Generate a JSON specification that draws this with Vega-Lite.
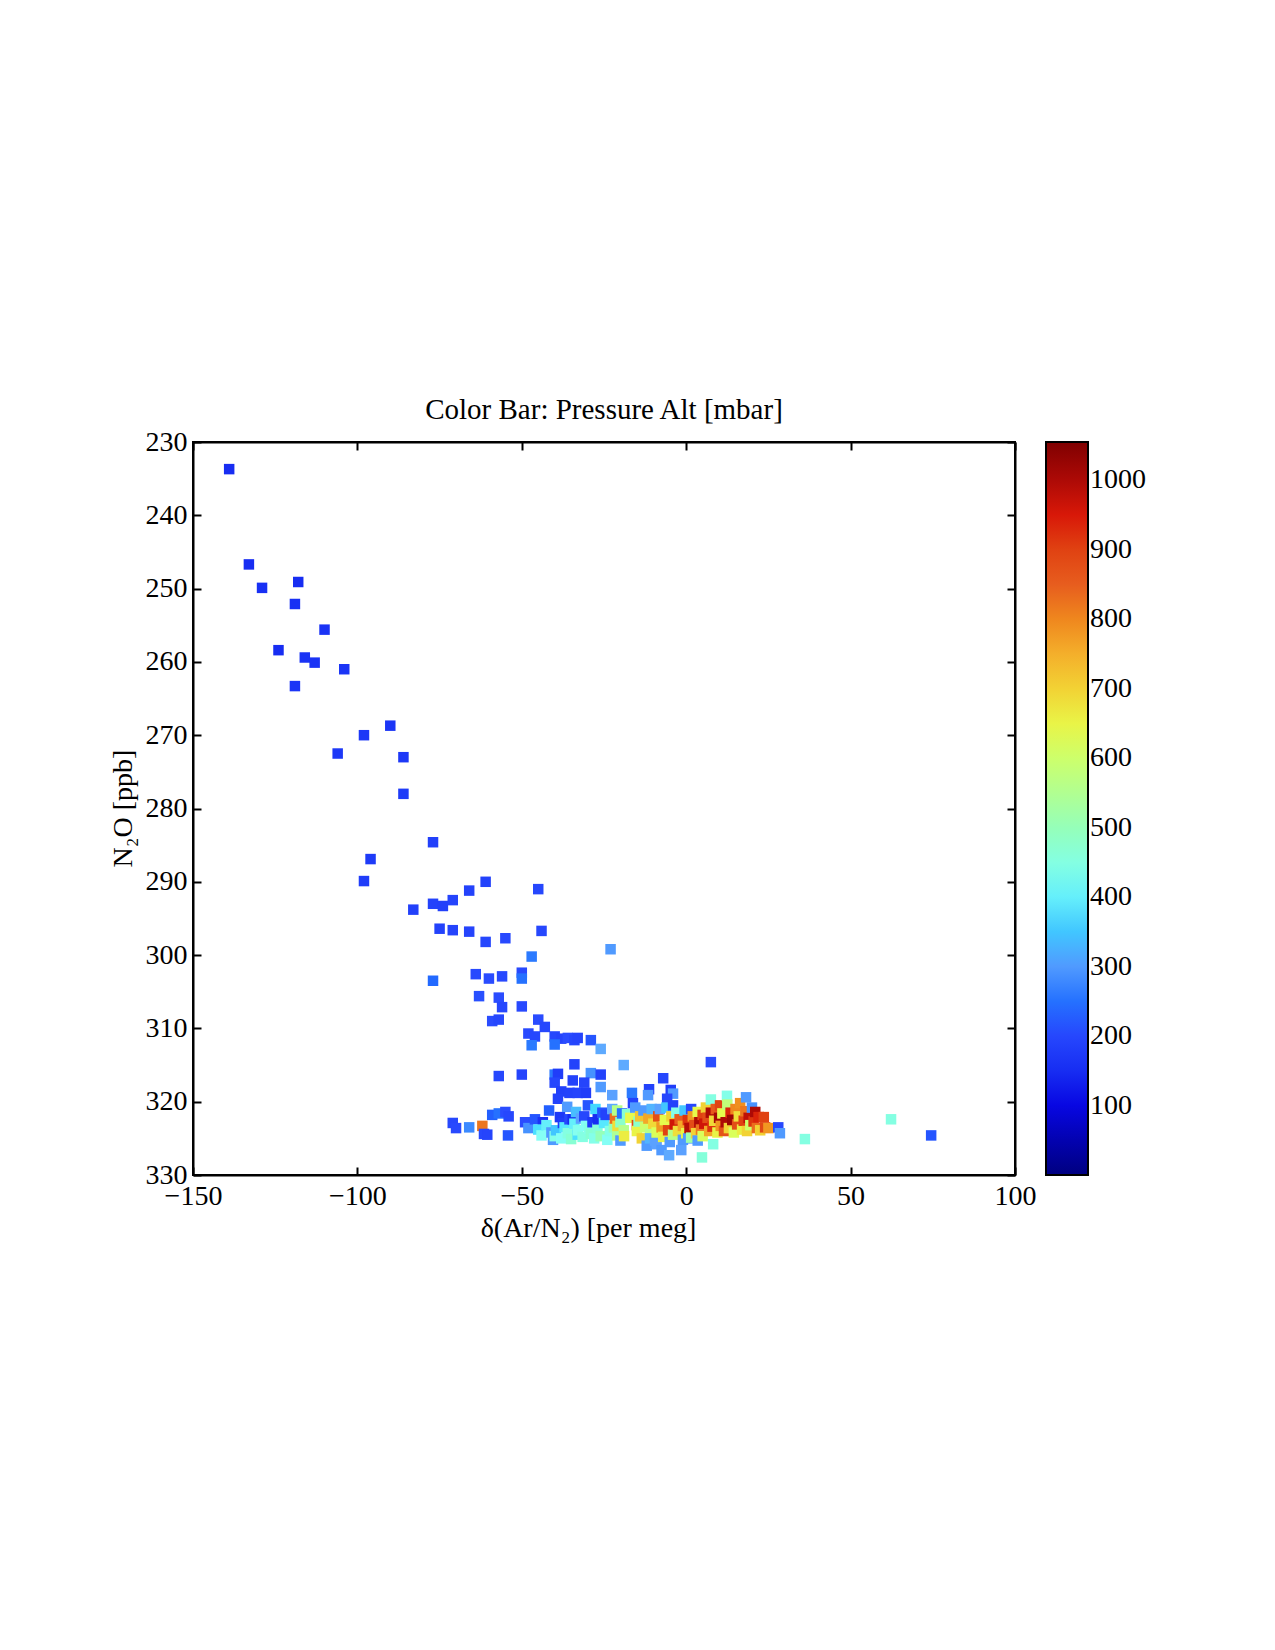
{
  "$schema": "https://vega.github.io/schema/vega-lite/v6.json",
  "width": 822,
  "height": 733,
  "autosize": "none",
  "padding": {"left": 193, "top": 442, "right": 260, "bottom": 475},
  "background": "white",
  "title": {
    "text": "Color Bar: Pressure Alt [mbar]",
    "font": "Liberation Serif",
    "fontSize": 29,
    "fontWeight": "normal",
    "color": "black",
    "anchor": "middle",
    "baseline": "alphabetic",
    "offset": -20
  },
  "data": {
    "values": [
      {"ar": -139, "n2o": 233.7, "p": 150},
      {"ar": -133, "n2o": 246.7, "p": 150},
      {"ar": -129, "n2o": 249.9, "p": 155},
      {"ar": -118, "n2o": 249.1, "p": 150},
      {"ar": -119, "n2o": 252.1, "p": 155},
      {"ar": -110, "n2o": 255.6, "p": 160},
      {"ar": -124, "n2o": 258.4, "p": 150},
      {"ar": -116, "n2o": 259.4, "p": 160},
      {"ar": -113, "n2o": 260.1, "p": 160},
      {"ar": -119, "n2o": 263.3, "p": 165},
      {"ar": -104, "n2o": 261.0, "p": 165},
      {"ar": -98, "n2o": 270.0, "p": 170},
      {"ar": -90, "n2o": 268.7, "p": 165},
      {"ar": -106, "n2o": 272.5, "p": 170},
      {"ar": -86, "n2o": 273.0, "p": 170},
      {"ar": -86, "n2o": 278.0, "p": 175},
      {"ar": -77, "n2o": 284.6, "p": 185},
      {"ar": -96, "n2o": 286.9, "p": 175},
      {"ar": -98, "n2o": 289.9, "p": 180},
      {"ar": -77, "n2o": 293.0, "p": 190},
      {"ar": -74, "n2o": 293.3, "p": 185},
      {"ar": -71, "n2o": 292.5, "p": 195},
      {"ar": -66, "n2o": 291.2, "p": 190},
      {"ar": -61, "n2o": 290.0, "p": 190},
      {"ar": -45, "n2o": 291.0, "p": 200},
      {"ar": -83, "n2o": 293.8, "p": 185},
      {"ar": -75, "n2o": 296.4, "p": 190},
      {"ar": -71, "n2o": 296.6, "p": 195},
      {"ar": -66, "n2o": 296.8, "p": 195},
      {"ar": -61, "n2o": 298.2, "p": 200},
      {"ar": -55, "n2o": 297.7, "p": 205},
      {"ar": -44, "n2o": 296.7, "p": 200},
      {"ar": -77, "n2o": 303.5, "p": 240},
      {"ar": -64, "n2o": 302.6, "p": 205},
      {"ar": -60, "n2o": 303.2, "p": 210},
      {"ar": -56, "n2o": 302.9, "p": 205},
      {"ar": -50, "n2o": 302.4, "p": 205},
      {"ar": -50, "n2o": 303.2, "p": 250},
      {"ar": -47, "n2o": 300.2, "p": 260},
      {"ar": -23, "n2o": 299.2, "p": 300},
      {"ar": -63, "n2o": 305.6, "p": 215},
      {"ar": -57, "n2o": 305.8, "p": 210},
      {"ar": -56, "n2o": 307.1, "p": 200},
      {"ar": -50, "n2o": 307.0, "p": 205},
      {"ar": -59, "n2o": 309.0, "p": 210},
      {"ar": -57, "n2o": 308.8, "p": 200},
      {"ar": -45, "n2o": 308.8, "p": 210},
      {"ar": -43, "n2o": 309.8, "p": 200},
      {"ar": -48, "n2o": 310.7, "p": 205},
      {"ar": -46, "n2o": 311.1, "p": 200},
      {"ar": -40, "n2o": 311.1, "p": 200},
      {"ar": -38, "n2o": 311.4, "p": 195},
      {"ar": -36, "n2o": 311.3, "p": 210},
      {"ar": -34, "n2o": 311.6, "p": 200},
      {"ar": -33, "n2o": 311.3, "p": 195},
      {"ar": -29, "n2o": 311.6, "p": 220},
      {"ar": -47, "n2o": 312.3, "p": 260},
      {"ar": -40, "n2o": 312.2, "p": 250},
      {"ar": -26, "n2o": 312.8, "p": 320},
      {"ar": -34, "n2o": 314.9, "p": 190},
      {"ar": -19, "n2o": 315.0, "p": 320},
      {"ar": -57, "n2o": 316.5, "p": 200},
      {"ar": -50, "n2o": 316.3, "p": 195},
      {"ar": -40, "n2o": 316.3, "p": 260},
      {"ar": -39, "n2o": 316.2, "p": 180},
      {"ar": -29, "n2o": 316.1, "p": 290},
      {"ar": -26, "n2o": 316.3, "p": 190},
      {"ar": -40, "n2o": 317.4, "p": 200},
      {"ar": -34.5, "n2o": 317.1, "p": 190},
      {"ar": -31, "n2o": 317.4, "p": 195},
      {"ar": -26, "n2o": 318.0, "p": 300},
      {"ar": -38, "n2o": 318.6, "p": 185},
      {"ar": -35.5, "n2o": 318.8, "p": 190},
      {"ar": -33, "n2o": 318.8, "p": 195},
      {"ar": -30.5, "n2o": 318.8, "p": 180},
      {"ar": -39, "n2o": 319.6, "p": 190},
      {"ar": -22.5, "n2o": 319.1, "p": 310},
      {"ar": -16.5, "n2o": 318.8, "p": 260},
      {"ar": -11.3, "n2o": 318.3, "p": 190},
      {"ar": -11.6, "n2o": 319.1, "p": 300},
      {"ar": -7, "n2o": 316.8, "p": 200},
      {"ar": -4.7, "n2o": 318.4, "p": 180},
      {"ar": -4, "n2o": 318.9, "p": 300},
      {"ar": -5.8, "n2o": 319.6, "p": 200},
      {"ar": 7.5, "n2o": 314.6, "p": 210},
      {"ar": -71, "n2o": 322.9, "p": 200},
      {"ar": -70, "n2o": 323.6, "p": 205},
      {"ar": -66, "n2o": 323.5, "p": 280},
      {"ar": -62, "n2o": 323.3, "p": 820},
      {"ar": -61.5, "n2o": 324.4, "p": 200},
      {"ar": -60.5, "n2o": 324.5, "p": 195},
      {"ar": -59, "n2o": 321.8, "p": 230},
      {"ar": -57, "n2o": 321.6, "p": 250},
      {"ar": -55, "n2o": 321.4, "p": 210},
      {"ar": -54, "n2o": 322.0, "p": 200},
      {"ar": -54.2, "n2o": 324.6, "p": 220},
      {"ar": -49, "n2o": 322.8, "p": 210},
      {"ar": -48, "n2o": 323.6, "p": 290},
      {"ar": -46, "n2o": 322.4, "p": 220},
      {"ar": -43.6, "n2o": 322.8, "p": 160},
      {"ar": -41.7, "n2o": 321.2, "p": 230},
      {"ar": -45, "n2o": 323.8, "p": 380},
      {"ar": -44, "n2o": 324.6, "p": 420},
      {"ar": -42.5, "n2o": 323.2, "p": 400},
      {"ar": -41, "n2o": 324.2, "p": 300},
      {"ar": -40.5, "n2o": 325.2, "p": 300},
      {"ar": -40, "n2o": 324.7, "p": 440},
      {"ar": -39.6, "n2o": 323.9, "p": 350},
      {"ar": -38.4, "n2o": 322.1, "p": 170},
      {"ar": -38, "n2o": 325.0, "p": 420},
      {"ar": -37.5, "n2o": 322.9, "p": 180},
      {"ar": -37, "n2o": 323.5, "p": 390},
      {"ar": -36.2, "n2o": 320.7, "p": 300},
      {"ar": -36, "n2o": 324.3, "p": 450},
      {"ar": -35.5, "n2o": 322.4, "p": 200},
      {"ar": -35, "n2o": 325.1, "p": 470},
      {"ar": -34.5, "n2o": 322.4, "p": 150},
      {"ar": -34, "n2o": 323.0, "p": 400},
      {"ar": -33.5, "n2o": 321.4, "p": 340},
      {"ar": -33, "n2o": 324.5, "p": 380},
      {"ar": -32.9, "n2o": 323.9, "p": 430},
      {"ar": -32, "n2o": 322.3, "p": 310},
      {"ar": -31.5, "n2o": 324.8, "p": 450},
      {"ar": -31, "n2o": 322.0, "p": 200},
      {"ar": -30.5, "n2o": 323.3, "p": 420},
      {"ar": -29.9, "n2o": 320.5, "p": 220},
      {"ar": -29.5, "n2o": 323.7, "p": 440},
      {"ar": -29, "n2o": 324.4, "p": 470},
      {"ar": -28.5, "n2o": 322.8, "p": 170},
      {"ar": -28, "n2o": 325.0, "p": 440},
      {"ar": -27.6, "n2o": 321.0, "p": 370},
      {"ar": -27, "n2o": 323.6, "p": 460},
      {"ar": -26.9, "n2o": 322.4, "p": 150},
      {"ar": -26, "n2o": 324.7, "p": 500},
      {"ar": -25.5, "n2o": 321.5, "p": 220},
      {"ar": -25, "n2o": 322.9, "p": 390},
      {"ar": -24.5, "n2o": 321.8, "p": 190},
      {"ar": -24, "n2o": 325.2, "p": 420},
      {"ar": -23.2, "n2o": 324.0, "p": 440},
      {"ar": -22.5, "n2o": 321.0, "p": 320},
      {"ar": -22, "n2o": 323.5, "p": 500},
      {"ar": -21.7, "n2o": 322.3, "p": 830},
      {"ar": -21, "n2o": 321.2, "p": 560},
      {"ar": -21, "n2o": 324.6, "p": 540},
      {"ar": -20.9, "n2o": 323.3, "p": 680},
      {"ar": -20, "n2o": 325.3, "p": 300},
      {"ar": -20, "n2o": 322.8, "p": 480},
      {"ar": -19.5, "n2o": 321.6, "p": 250},
      {"ar": -19, "n2o": 323.9, "p": 560},
      {"ar": -18.9, "n2o": 324.7, "p": 660},
      {"ar": -18, "n2o": 321.7, "p": 470},
      {"ar": -17, "n2o": 322.2, "p": 640},
      {"ar": -16.2, "n2o": 320.2, "p": 190},
      {"ar": -15.5, "n2o": 320.8, "p": 300},
      {"ar": -15, "n2o": 323.2, "p": 890},
      {"ar": -15, "n2o": 324.0, "p": 650},
      {"ar": -14.5, "n2o": 322.7, "p": 480},
      {"ar": -14, "n2o": 322.0, "p": 720},
      {"ar": -13.5, "n2o": 325.0, "p": 700},
      {"ar": -13, "n2o": 321.2, "p": 300},
      {"ar": -12.5, "n2o": 323.5, "p": 600},
      {"ar": -12, "n2o": 326.0, "p": 300},
      {"ar": -11.5, "n2o": 322.3, "p": 760},
      {"ar": -11, "n2o": 324.4, "p": 560},
      {"ar": -11, "n2o": 325.0, "p": 330},
      {"ar": -10.5, "n2o": 321.0, "p": 330},
      {"ar": -10, "n2o": 323.0, "p": 690},
      {"ar": -9.5, "n2o": 325.3, "p": 310},
      {"ar": -9, "n2o": 324.2, "p": 620},
      {"ar": -9, "n2o": 325.8, "p": 310},
      {"ar": -8.5, "n2o": 322.0, "p": 880},
      {"ar": -8, "n2o": 321.0, "p": 310},
      {"ar": -7.5, "n2o": 323.5, "p": 780},
      {"ar": -7.5, "n2o": 326.6, "p": 300},
      {"ar": -7, "n2o": 324.8, "p": 650},
      {"ar": -6.5, "n2o": 322.5, "p": 640},
      {"ar": -6, "n2o": 320.8, "p": 350},
      {"ar": -5.5, "n2o": 323.9, "p": 900},
      {"ar": -5.2, "n2o": 327.3, "p": 320},
      {"ar": -5, "n2o": 325.5, "p": 300},
      {"ar": -4.5, "n2o": 322.0, "p": 700},
      {"ar": -4, "n2o": 324.5, "p": 560},
      {"ar": -4, "n2o": 320.5, "p": 190},
      {"ar": -3.5, "n2o": 323.1, "p": 960},
      {"ar": -3, "n2o": 321.5, "p": 440},
      {"ar": -2.5, "n2o": 324.0, "p": 680},
      {"ar": -2, "n2o": 322.4, "p": 850},
      {"ar": -1.5, "n2o": 326.6, "p": 310},
      {"ar": -1, "n2o": 323.3, "p": 760},
      {"ar": -1, "n2o": 325.2, "p": 300},
      {"ar": -0.5, "n2o": 321.2, "p": 350},
      {"ar": 0, "n2o": 324.3, "p": 650},
      {"ar": 0.5, "n2o": 322.5, "p": 920},
      {"ar": 0.6, "n2o": 325.0, "p": 300},
      {"ar": 1, "n2o": 323.6, "p": 990},
      {"ar": 1.5, "n2o": 321.0, "p": 200},
      {"ar": 1.5, "n2o": 324.9, "p": 520},
      {"ar": 2, "n2o": 322.0, "p": 780},
      {"ar": 2.5, "n2o": 323.2, "p": 880},
      {"ar": 3, "n2o": 324.3, "p": 700},
      {"ar": 3.5, "n2o": 321.4, "p": 640},
      {"ar": 3.5, "n2o": 325.3, "p": 300},
      {"ar": 4, "n2o": 322.8, "p": 1000},
      {"ar": 4.5, "n2o": 323.8, "p": 820},
      {"ar": 4.8, "n2o": 327.6, "p": 460},
      {"ar": 5, "n2o": 321.8, "p": 900},
      {"ar": 5, "n2o": 324.7, "p": 620},
      {"ar": 5.5, "n2o": 323.0, "p": 960},
      {"ar": 6, "n2o": 320.8, "p": 700},
      {"ar": 6.5, "n2o": 322.2, "p": 880},
      {"ar": 7, "n2o": 324.0, "p": 760},
      {"ar": 7.5, "n2o": 319.7, "p": 450},
      {"ar": 7.5, "n2o": 321.5, "p": 1000},
      {"ar": 8, "n2o": 323.4, "p": 920},
      {"ar": 8.2, "n2o": 325.8, "p": 450},
      {"ar": 8.5, "n2o": 322.6, "p": 690},
      {"ar": 9, "n2o": 321.0, "p": 860},
      {"ar": 9.5, "n2o": 324.2, "p": 650},
      {"ar": 10, "n2o": 322.2, "p": 1010},
      {"ar": 10.3, "n2o": 320.5, "p": 900},
      {"ar": 10.5, "n2o": 323.3, "p": 780},
      {"ar": 11, "n2o": 321.6, "p": 640},
      {"ar": 11.5, "n2o": 324.0, "p": 870},
      {"ar": 12, "n2o": 322.8, "p": 1000},
      {"ar": 12.4, "n2o": 319.2, "p": 440},
      {"ar": 12.5, "n2o": 320.4, "p": 580},
      {"ar": 13, "n2o": 323.6, "p": 700},
      {"ar": 13.5, "n2o": 321.5, "p": 940},
      {"ar": 14, "n2o": 322.5, "p": 1020},
      {"ar": 14.5, "n2o": 324.2, "p": 620},
      {"ar": 15, "n2o": 321.0, "p": 800},
      {"ar": 15.5, "n2o": 323.1, "p": 880},
      {"ar": 16, "n2o": 322.0, "p": 680},
      {"ar": 16.4, "n2o": 320.2, "p": 790},
      {"ar": 17, "n2o": 323.8, "p": 660},
      {"ar": 17.5, "n2o": 322.6, "p": 900},
      {"ar": 18, "n2o": 321.3, "p": 820},
      {"ar": 18.2, "n2o": 319.4, "p": 300},
      {"ar": 18.5, "n2o": 324.0, "p": 700},
      {"ar": 19, "n2o": 322.2, "p": 980},
      {"ar": 19.5, "n2o": 323.2, "p": 600},
      {"ar": 20, "n2o": 320.8, "p": 290},
      {"ar": 20.5, "n2o": 322.7, "p": 920},
      {"ar": 21, "n2o": 321.4, "p": 1000},
      {"ar": 21.5, "n2o": 323.6, "p": 830},
      {"ar": 22, "n2o": 322.1, "p": 940},
      {"ar": 22.5, "n2o": 323.9, "p": 700},
      {"ar": 23.6, "n2o": 322.1, "p": 900},
      {"ar": 24, "n2o": 323.5, "p": 890},
      {"ar": 25, "n2o": 323.6, "p": 780},
      {"ar": 28, "n2o": 323.5, "p": 200},
      {"ar": 28.5, "n2o": 324.3, "p": 300},
      {"ar": 36.1, "n2o": 325.1, "p": 450},
      {"ar": 62.3, "n2o": 322.4, "p": 450},
      {"ar": 74.5, "n2o": 324.6, "p": 220}
    ]
  },
  "layer": [
    {
      "mark": {"type": "square", "size": 110, "opacity": 1, "filled": true},
      "encoding": {
        "x": {
          "field": "ar",
          "type": "quantitative",
          "scale": {"domain": [-150, 100], "nice": false, "zero": false},
          "axis": {
            "orient": "bottom",
            "values": [-150, -100, -50, 0, 50, 100],
            "title": "δ(Ar/N₂) [per meg]",
            "titleX": 395,
            "titleY": 53,
            "titleBaseline": "middle",
            "labelPadding": 15
          }
        },
        "y": {
          "field": "n2o",
          "type": "quantitative",
          "scale": {"domain": [230, 330], "nice": false, "zero": false, "reverse": true},
          "axis": {
            "orient": "left",
            "values": [230, 240, 250, 260, 270, 280, 290, 300, 310, 320, 330],
            "title": "N₂O [ppb]",
            "titleX": -70,
            "titleY": 366,
            "titleAngle": -90,
            "titleAlign": "center",
            "titleBaseline": "middle",
            "labelPadding": 14
          }
        },
        "color": {
          "field": "p",
          "type": "quantitative",
          "scale": {
            "domain": [0, 1055],
            "range": ["#000080", "#0808e8", "#2a4cff", "#62a6ff", "#88fff4", "#a8ffa0", "#e4ff50", "#f4b830", "#e86020", "#d81808", "#800000"]
          },
          "legend": {
            "orient": "none",
            "legendX": 853,
            "legendY": 0,
            "direction": "vertical",
            "title": null,
            "format": "d",
            "gradientLength": 733,
            "gradientThickness": 42,
            "values": [100, 200, 300, 400, 500, 600, 700, 800, 900, 1000]
          }
        }
      }
    },
    {
      "mark": {"type": "square", "size": 110, "opacity": 0},
      "encoding": {
        "x": {
          "field": "ar",
          "type": "quantitative",
          "axis": {"orient": "top", "values": [-150, -100, -50, 0, 50, 100], "labels": false, "title": null}
        },
        "y": {
          "field": "n2o",
          "type": "quantitative",
          "axis": {"orient": "right", "values": [230, 240, 250, 260, 270, 280, 290, 300, 310, 320, 330], "labels": false, "title": null}
        }
      }
    }
  ],
  "resolve": {"axis": {"x": "independent", "y": "independent"}},
  "config": {
    "font": "Liberation Serif",
    "view": {"stroke": "black", "strokeWidth": 2},
    "axis": {
      "grid": false,
      "domainColor": "black",
      "domainWidth": 2,
      "tickColor": "black",
      "tickWidth": 2,
      "tickSize": -8,
      "labelFont": "Liberation Serif",
      "labelFontSize": 28,
      "labelColor": "black",
      "labelFlush": false,
      "labelOverlap": false,
      "titleFont": "Liberation Serif",
      "titleFontSize": 28,
      "titleFontWeight": "normal",
      "titleColor": "black"
    },
    "legend": {
      "gradientVerticalMaxLength": 733,
      "gradientStrokeColor": "black",
      "gradientStrokeWidth": 2,
      "labelFont": "Liberation Serif",
      "labelFontSize": 28,
      "labelColor": "black",
      "labelOffset": 10,
      "labelOverlap": false,
      "padding": 0
    }
  }
}
